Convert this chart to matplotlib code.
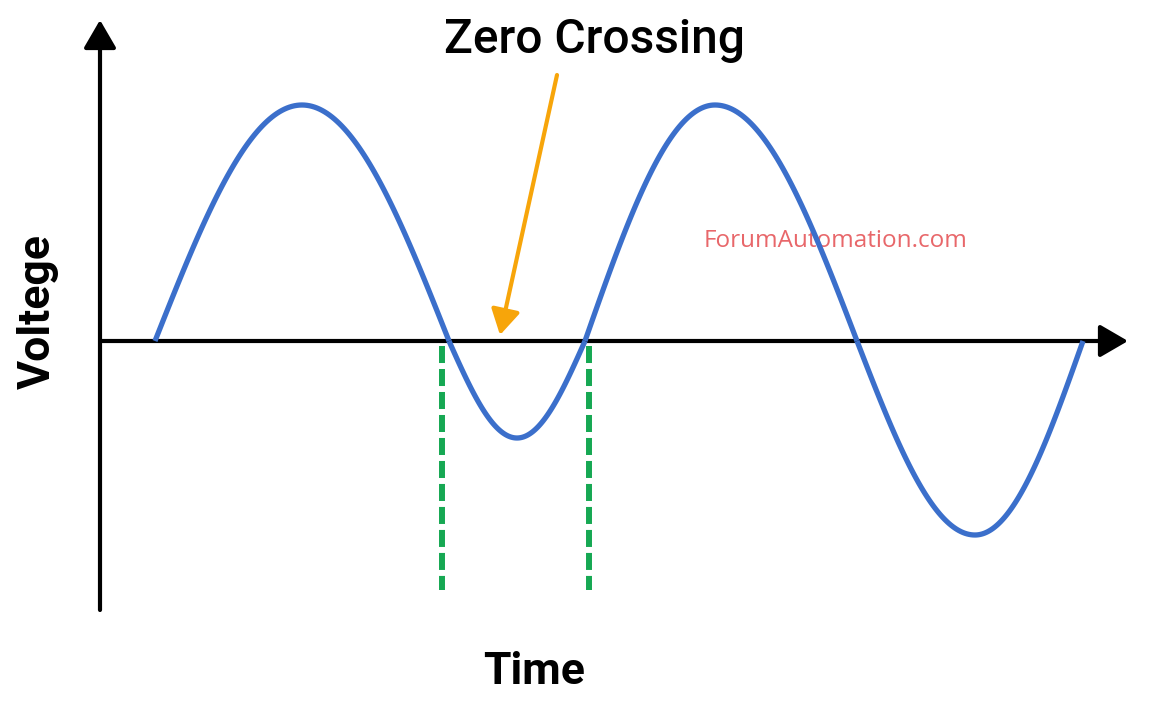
"""
Zero crossing sketch of an AC voltage waveform
"""

import numpy as np
import matplotlib.pyplot as plt

# waveform (time units, voltage units)
crossings   = [0.55, 3.49, 4.85, 7.57, 9.83]     # zero crossings
peak_times  = [2.02, 4.17, 6.15, 8.75]           # time of each lobe's extreme
peak_values = [2.36, -0.97, 2.36, -1.94]         # extreme value of each lobe

# marked zero crossings (green dashed)
marked_times = [3.42, 4.89]
marked_low   = -2.49

# annotation
arrow_tail = (4.57, 2.66)
arrow_head = (4.00, 0.06)

# axes extents
t_axis_end = 10.28
v_axis_top = 3.21
v_axis_bot = -2.69

BLUE   = '#3b6fcb'
GREEN  = '#16a853'
ORANGE = '#f7a50a'
RED    = '#e8676a'

fig = plt.figure(figsize=(11.49, 7.04), dpi=100)
ax = fig.add_axes([0, 0, 1, 1])
ax.set_xlim(-1.0, 10.49)
ax.set_ylim(-3.63, 3.41)
ax.axis('off')

# axes with arrow heads
head = '-|>,head_length=0.43,head_width=0.25'
ax.annotate('', xy=(t_axis_end, 0), xytext=(0, 0),
            arrowprops=dict(arrowstyle=head, lw=3.0, color='black',
                            mutation_scale=40, shrinkA=0, shrinkB=0))
ax.annotate('', xy=(0, v_axis_top), xytext=(0, v_axis_bot),
            arrowprops=dict(arrowstyle=head, lw=3.0, color='black',
                            mutation_scale=40, shrinkA=0, shrinkB=0))

# waveform, one half-wave lobe at a time
for i in range(len(peak_times)):
    a, b = crossings[i], crossings[i + 1]
    p, A = peak_times[i], peak_values[i]
    t1 = np.linspace(a, p, 60)
    t2 = np.linspace(p, b, 60)
    ph = np.concatenate([(t1 - a) / (p - a) * np.pi / 2,
                         np.pi / 2 + (t2 - p) / (b - p) * np.pi / 2])
    ax.plot(np.concatenate([t1, t2]), A * np.sin(ph), color=BLUE,
            lw=3.8, solid_capstyle='butt', zorder=4)

# green dashed markers
for tm in marked_times:
    ax.plot([tm, tm], [-0.05, marked_low], color=GREEN, lw=4.3,
            linestyle=(0, (2.85, 1.0)), zorder=3)

# orange pointer
ax.annotate('', xy=arrow_head, xytext=arrow_tail,
            arrowprops=dict(arrowstyle='-|>,head_length=0.38,head_width=0.22',
                            lw=3.0, color=ORANGE,
                            mutation_scale=40, shrinkA=0, shrinkB=0),
            zorder=5)

ax.text(4.94, 3.01, 'Zero Crossing', fontsize=34.5, family='Roboto',
        weight='medium', ha='center', va='center')
ax.text(4.34, -3.31, 'Time', fontsize=32, family='Roboto', weight='bold',
        ha='center', va='center')
ax.text(-0.62, 0.29, 'Voltege', fontsize=32, family='Roboto', weight='bold',
        rotation=90, ha='center', va='center')
ax.text(7.36, 1.00, 'ForumAutomation.com', fontsize=17.5, family='Open Sans',
        color=RED, ha='center', va='center')

fig.savefig('out.png', dpi=100)
